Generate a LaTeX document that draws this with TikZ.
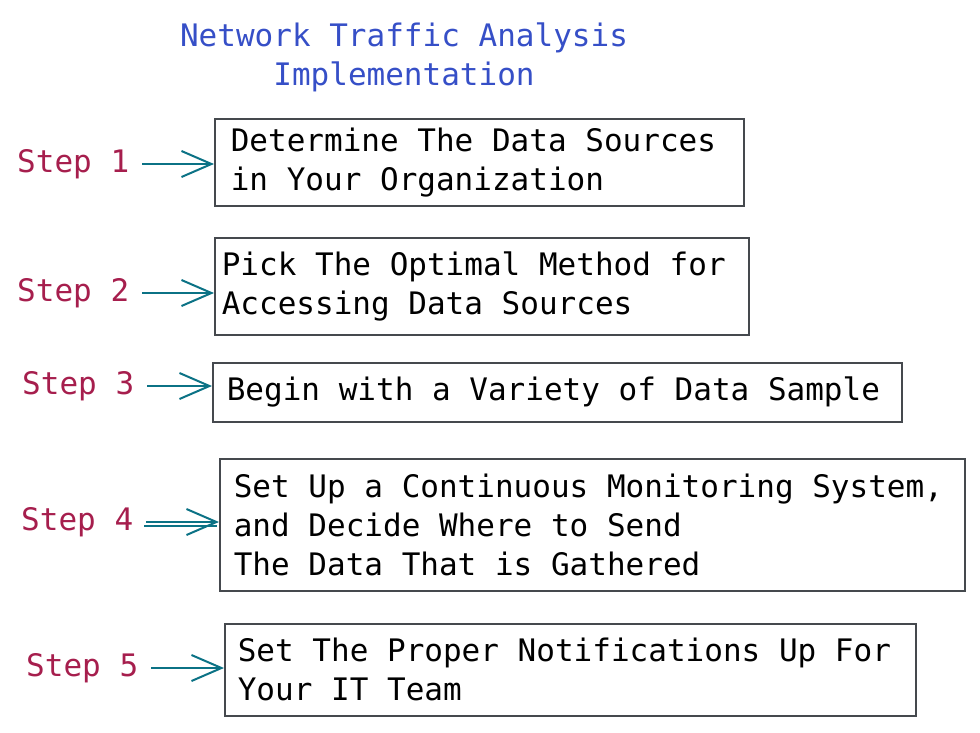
\documentclass[tikz,border=0pt]{standalone}
\usepackage{fontspec}
\setmonofont{DejaVu Sans Mono}
\usetikzlibrary{arrows.meta}

\definecolor{titleblue}{HTML}{364FC7}
\definecolor{steppink}{HTML}{A61E4D}
\definecolor{flowcyan}{HTML}{0B7285}
\definecolor{boxgray}{HTML}{45494E}

\tikzset{
    every node/.style={font=\ttfamily\fontsize{31}{39}\selectfont},
    steplabel/.style={anchor=west, inner sep=0pt, text=steppink},
    stepbox/.style={draw=boxgray, line width=1.6pt, anchor=north west, align=flush left, inner ysep=0pt},
    flow/.style={draw=flowcyan, line width=2pt, -{Straight Barb[length=30pt, width=26pt, line width=2pt]}, shorten <=13pt}
}

\begin{document}
\begin{tikzpicture}[x=1pt, y=-1pt]
    \useasboundingbox (0,0) rectangle (980,732);

    % title
    \node[text=titleblue, align=center] (title) at (404,57) {Network Traffic Analysis\\Implementation};

    % boxes
    \node[stepbox, minimum width=529pt, minimum height=87pt, inner xsep=16pt, text width=497pt] (b1) at (214,118)
        {Determine The Data Sources\\in Your Organization};
    \node[stepbox, minimum width=534pt, minimum height=97pt, inner xsep=7pt, text width=520pt] (b2) at (214,237)
        {Pick The Optimal Method for\\Accessing Data Sources};
    \node[stepbox, minimum width=689pt, minimum height=59pt, inner xsep=14pt, text width=661pt] (b3) at (212,362)
        {Begin with a Variety of Data Sample};
    \node[stepbox, minimum width=745pt, minimum height=132pt, inner xsep=14pt, text width=717pt] (b4) at (219,458)
        {Set Up a Continuous Monitoring System,\\and Decide Where to Send\\The Data That is Gathered};
    \node[stepbox, minimum width=691pt, minimum height=92pt, inner xsep=13pt, text width=665pt] (b5) at (224,623)
        {Set The Proper Notifications Up For\\Your IT Team};

    % step labels
    \node[steplabel] (s1) at (17,164) {Step 1};
    \node[steplabel] (s2) at (17,293) {Step 2};
    \node[steplabel] (s3) at (22,386) {Step 3};
    \node[steplabel] (s4) at (21,522) {Step 4};
    \node[steplabel] (s5) at (26,668) {Step 5};

    % arrows
    \draw[flow] (s1.east) -- (s1.east -| b1.west);
    \draw[flow] (s2.east) -- (s2.east -| b2.west);
    \draw[flow] (s3.east) -- (s3.east -| b3.west);
    \draw[flow] (s4.east) -- (s4.east -| b4.west);
    \draw[flowcyan, line width=2pt, shorten <=11pt, shorten >=2pt] ([yshift=-4pt]s4.east) -- ([yshift=-4pt]s4.east -| b4.west);
    \draw[flow] (s5.east) -- (s5.east -| b5.west);
\end{tikzpicture}
\end{document}
